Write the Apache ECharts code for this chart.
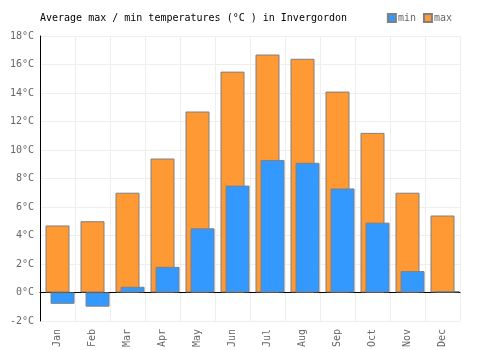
<!DOCTYPE html>
<html><head><meta charset="utf-8">
<script src="https://cdn.jsdelivr.net/npm/echarts@6/dist/echarts.min.js"></script>
<style>html,body{margin:0;padding:0;background:#fff}#c{width:500px;height:350px}</style>
</head><body><div id="c"></div>
<script>
const categories = ['Jan','Feb','Mar','Apr','May','Jun','Jul','Aug','Sep','Oct','Nov','Dec'];
const maxTemps = [4.7, 5.0, 7.0, 9.4, 12.7, 15.5, 16.7, 16.4, 14.1, 11.2, 7.0, 5.4];
const minTemps = [-0.8, -1.0, 0.4, 1.8, 4.5, 7.5, 9.3, 9.1, 7.3, 4.9, 1.5, 0.1];
const yTicks = {min: -2, max: 18, interval: 2};
const titleText = 'Average max / min temperatures (°C ) in Invergordon';

const font = 'DejaVu Sans Mono';
const chart = echarts.init(document.getElementById('c'), null, {renderer: 'canvas'});
chart.setOption({
  animation: false,
  textStyle: {fontFamily: font},
  title: {text: titleText, left: 35, top: 8, textStyle: {fontFamily: font, fontSize: 10, fontWeight: 'normal', color: '#000'}},
  legend: {
    data: ['min', 'max'], right: 43, top: 8, icon: 'rect', itemWidth: 8, itemHeight: 8, itemGap: 7,
    textStyle: {fontFamily: font, fontSize: 10, color: '#666', padding: [0, 0, 0, -3]}
  },
  grid: {left: 40, right: 40, top: 36, bottom: 28},
  xAxis: {
    type: 'category', data: categories,
    axisLine: {onZero: true, lineStyle: {color: '#000', width: 1}},
    axisTick: {show: false},
    axisLabel: {rotate: 90, color: '#666', fontFamily: font, fontSize: 10, margin: 8, interval: 0},
    splitLine: {show: true, interval: 0, lineStyle: {color: '#eeeeee'}}
  },
  yAxis: {
    type: 'value', min: yTicks.min, max: yTicks.max, interval: yTicks.interval,
    axisLine: {show: true, lineStyle: {color: '#000'}},
    axisTick: {show: false},
    axisLabel: {formatter: '{value}°C', color: '#666', fontFamily: font, fontSize: 10, margin: 6},
    splitLine: {lineStyle: {color: '#eeeeee'}}
  },
  series: [
    {name: 'pad', type: 'bar', data: categories.map(() => '-'), barWidth: 24, barGap: '-79%', silent: true},
    {name: 'max', type: 'bar', data: maxTemps, barWidth: 24, barGap: '-79%',
     itemStyle: {color: '#ff9933', borderColor: '#808080', borderWidth: 1, borderRadius: 0}},
    {name: 'min', type: 'bar', data: minTemps, barWidth: 24, barGap: '-79%',
     itemStyle: {color: '#3399ff', borderColor: '#808080', borderWidth: 1, borderRadius: 0}}
  ]
});
</script></body></html>
